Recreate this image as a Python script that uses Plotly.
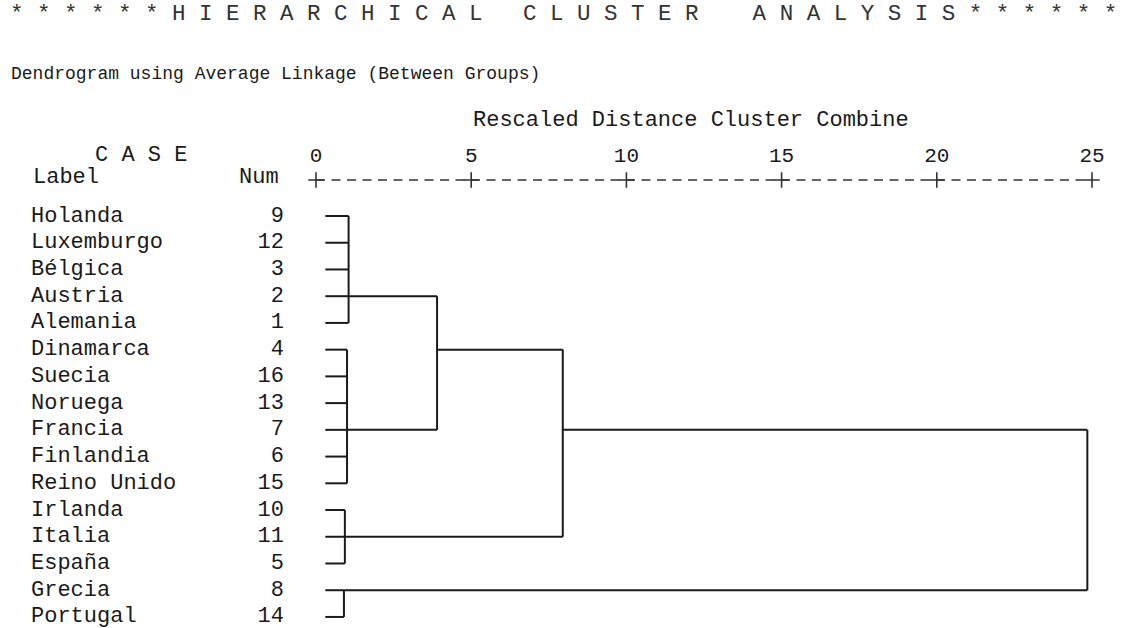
import plotly.graph_objects as go

# ---------------- data ----------------
labels = ["Holanda", "Luxemburgo", "Bélgica", "Austria", "Alemania",
          "Dinamarca", "Suecia", "Noruega", "Francia", "Finlandia",
          "Reino Unido", "Irlanda", "Italia", "España", "Grecia", "Portugal"]
case_nums = [9, 12, 3, 2, 1, 4, 16, 13, 7, 6, 15, 10, 11, 5, 8, 14]

# cluster merges: name -> (children, rescaled distance, row where the link leaves)
merge_names = ["c1", "c2", "c3", "c4", "c5", "c6", "c7"]
merge_children = [
    ["L0", "L1", "L2", "L3", "L4"],
    ["L5", "L6", "L7", "L8", "L9", "L10"],
    ["L11", "L12", "L13"],
    ["L14", "L15"],
    ["c1", "c2"],
    ["c5", "c3"],
    ["c6", "c4"],
]
merge_dist = [1.05, 1.0, 0.93, 0.9, 3.9, 7.95, 24.85]
merge_link_row = [3, 8, 12, 14, 5, 8, 8]

tick_vals = [0, 5, 10, 15, 20, 25]
tick_text = ["0", "5", "10", "15", "20", "25"]

title_text = ("* * * * * * H I E R A R C H I C A L   C L U S T E R    "
              "A N A L Y S I S * * * * * *")
subtitle_text = "Dendrogram using Average Linkage (Between Groups)"
axis_title = "Rescaled Distance Cluster Combine"

# ---------------- layout helpers (pixel -> data) ----------------
W, H = 1125, 628
X0_PX, X_UNIT = 316.0, 31.04      # pixel of distance 0, pixels per unit
Y0_PX, Y_UNIT = 216.0, 26.73      # pixel of first row, pixels per row


def xd(px):
    return (px - X0_PX) / X_UNIT


def yd(py):
    return (py - Y0_PX) / Y_UNIT


LEAF_START = 0.3
INK = "#1a1a1a"
MONO = "Courier New, Liberation Mono, monospace"

# ---------------- build dendrogram segments ----------------
pos = {}   # node -> (x, row)
for i in range(len(labels)):
    pos[f"L{i}"] = (LEAF_START, i)

seg_x, seg_y = [], []
for name, kids, d, lr in zip(merge_names, merge_children, merge_dist, merge_link_row):
    rows = []
    for k in kids:
        kx, kr = pos[k]
        seg_x += [kx, d, None]
        seg_y += [kr, kr, None]
        rows.append(kr)
    seg_x += [d, d, None]
    seg_y += [min(rows), max(rows), None]
    pos[name] = (d, lr)

fig = go.Figure()

fig.add_trace(go.Scatter(x=seg_x, y=seg_y, mode="lines",
                         line=dict(color=INK, width=2), hoverinfo="skip",
                         showlegend=False))

# axis line "+---------+---..."
axis_row = yd(180)
fig.add_trace(go.Scatter(x=[tick_vals[0], tick_vals[-1]], y=[axis_row, axis_row],
                         mode="lines", line=dict(color="#333333", width=1.4, dash="9px,6.5px"),
                         hoverinfo="skip", showlegend=False))
fig.add_trace(go.Scatter(x=tick_vals, y=[axis_row] * len(tick_vals), mode="markers",
                         marker=dict(symbol="cross-thin", size=11,
                                     line=dict(color="#333333", width=1.6)),
                         hoverinfo="skip", showlegend=False))
# tick labels
fig.add_trace(go.Scatter(x=tick_vals, y=[yd(157)] * len(tick_vals), mode="text",
                         text=tick_text, textposition="middle center",
                         textfont=dict(family=MONO, size=21, color=INK),
                         hoverinfo="skip", showlegend=False))

# case labels and numbers
rows = list(range(len(labels)))
fig.add_trace(go.Scatter(x=[xd(31)] * len(labels), y=rows, mode="text",
                         text=labels, textposition="middle right",
                         textfont=dict(family=MONO, size=22, color=INK),
                         hoverinfo="skip", showlegend=False))
fig.add_trace(go.Scatter(x=[xd(284)] * len(labels), y=rows, mode="text",
                         text=[str(n) for n in case_nums], textposition="middle left",
                         textfont=dict(family=MONO, size=22, color=INK),
                         hoverinfo="skip", showlegend=False))

annotations = [
    dict(x=xd(8), y=yd(14), text=title_text, xanchor="left", yanchor="middle",
         font=dict(family=MONO, size=22.5, color="#333333")),
    dict(x=xd(9), y=yd(74), text=subtitle_text, xanchor="left", yanchor="middle",
         font=dict(family=MONO, size=18, color=INK)),
    dict(x=xd(691), y=yd(120), text=axis_title, xanchor="center", yanchor="middle",
         font=dict(family=MONO, size=22, color=INK)),
    dict(x=xd(93), y=yd(155), text="C A S E", xanchor="left", yanchor="middle",
         font=dict(family=MONO, size=22, color=INK)),
    dict(x=xd(31), y=yd(177), text="Label", xanchor="left", yanchor="middle",
         font=dict(family=MONO, size=22, color=INK)),
    dict(x=xd(281), y=yd(177), text="Num", xanchor="right", yanchor="middle",
         font=dict(family=MONO, size=22, color=INK)),
]
for a in annotations:
    a.update(xref="x", yref="y", showarrow=False)

fig.update_layout(
    width=W, height=H,
    margin=dict(l=0, r=0, t=0, b=0),
    paper_bgcolor="white", plot_bgcolor="white",
    xaxis=dict(range=[xd(0), xd(W)], visible=False, fixedrange=True),
    yaxis=dict(range=[yd(H), yd(0)], visible=False, fixedrange=True),
    annotations=annotations,
    showlegend=False,
)

fig.write_html("out.html",
               config={"displayModeBar": False},
               post_script="document.body.style.margin='0px';"
                           "document.body.style.overflow='hidden';")
